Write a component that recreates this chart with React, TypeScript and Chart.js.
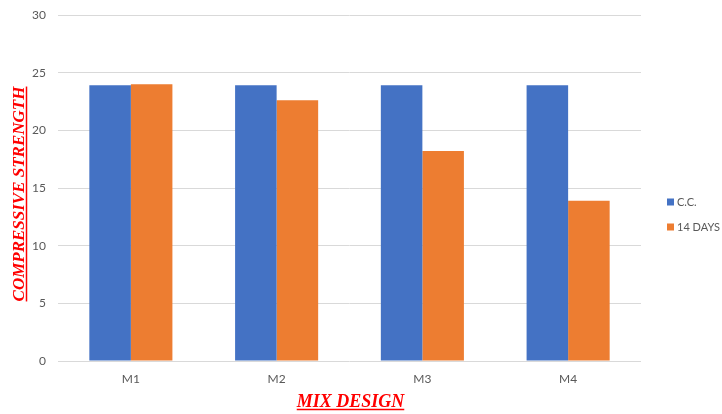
import React, { useEffect, useRef } from "react";
import { Chart, registerables } from "chart.js";

Chart.register(...registerables);

const categories = ["M1", "M2", "M3", "M4"];
const ccValues = [23.9, 23.9, 23.9, 23.9];
const days14Values = [24.0, 22.6, 18.2, 13.9];
const seriesLabels = ["C.C.", "14 DAYS"];
const seriesColors = ["#4472C4", "#ED7D31"];
const yTitle = "COMPRESSIVE STRENGTH";
const xTitle = "MIX DESIGN";

const TICK_FONT = "Lato, 'Open Sans', sans-serif";
const TITLE_FONT = "'Liberation Serif', 'DejaVu Serif', serif";

const overlayPlugin = {
  id: "overlay",
  afterDraw(chart: any) {
    const ctx = chart.ctx as CanvasRenderingContext2D;
    const area = chart.chartArea;
    ctx.save();
    // Y title
    ctx.font = `italic bold 17px ${TITLE_FONT}`;
    ctx.fillStyle = "#FF0000";
    ctx.strokeStyle = "#FF0000";
    ctx.textAlign = "center";
    ctx.textBaseline = "alphabetic";
    const yw = ctx.measureText(yTitle).width;
    ctx.translate(24, 194);
    ctx.rotate(-Math.PI / 2);
    ctx.fillText(yTitle, 0, 0);
    ctx.lineWidth = 1.5;
    ctx.beginPath();
    ctx.moveTo(-yw / 2, 2.5);
    ctx.lineTo(yw / 2, 2.5);
    ctx.stroke();
    ctx.restore();

    ctx.save();
    ctx.font = `italic bold 18px ${TITLE_FONT}`;
    ctx.fillStyle = "#FF0000";
    ctx.strokeStyle = "#FF0000";
    ctx.textAlign = "center";
    ctx.textBaseline = "alphabetic";
    const xw = ctx.measureText(xTitle).width;
    const cx = (area.left + area.right) / 2 + 1;
    ctx.fillText(xTitle, cx, 407);
    ctx.lineWidth = 1.5;
    ctx.beginPath();
    ctx.moveTo(cx - xw / 2, 409.5);
    ctx.lineTo(cx + xw / 2, 409.5);
    ctx.stroke();
    ctx.restore();

    // Legend
    ctx.save();
    ctx.font = `11px ${TICK_FONT}`;
    ctx.textBaseline = "middle";
    ctx.textAlign = "left";
    const ys = [202, 227];
    seriesLabels.forEach((lab, i) => {
      ctx.fillStyle = seriesColors[i];
      ctx.fillRect(667, ys[i] - 3.5, 7, 7);
      ctx.fillStyle = "#595959";
      ctx.fillText(lab, 677, ys[i] + 0.5);
    });
    ctx.restore();
  },
};

export default function App() {
  const ref = useRef<HTMLCanvasElement>(null);
  useEffect(() => {
    const chart = new Chart(ref.current!, {
      type: "bar",
      data: {
        labels: categories,
        datasets: [
          {
            label: seriesLabels[0],
            data: ccValues,
            backgroundColor: seriesColors[0],
            barPercentage: 1,
            categoryPercentage: 0.57,
          },
          {
            label: seriesLabels[1],
            data: days14Values,
            backgroundColor: seriesColors[1],
            barPercentage: 1,
            categoryPercentage: 0.57,
          },
        ],
      },
      options: {
        animation: false,
        responsive: false,
        maintainAspectRatio: false,
        layout: { padding: { left: 0, right: 81, top: 15, bottom: 0 } },
        plugins: {
          legend: { display: false },
          tooltip: { enabled: false },
        },
        scales: {
          x: {
            grid: { display: false },
            border: { display: false },
            ticks: {
              color: "#595959",
              font: { family: TICK_FONT, size: 12 },
              padding: 3,
            },
            afterFit(scale: any) {
              scale.height = 53;
            },
          },
          y: {
            min: 0,
            max: 30,
            ticks: {
              stepSize: 5,
              color: "#595959",
              font: { family: TICK_FONT, size: 12 },
              padding: 12,
            },
            grid: { color: "#D9D9D9", drawTicks: false, lineWidth: 1 },
            border: { display: false },
            afterFit(scale: any) {
              scale.width = 58;
              scale.paddingTop = 0;
              scale.paddingBottom = 0;
            },
          },
        },
      },
      plugins: [overlayPlugin],
    });
    return () => chart.destroy();
  }, []);
  return (
    <div style={{ position: "fixed", left: 0, top: 0, width: 722, height: 414, background: "#fff" }}>
      <canvas ref={ref} width={722} height={414} style={{ display: "block" }} />
    </div>
  );
}
